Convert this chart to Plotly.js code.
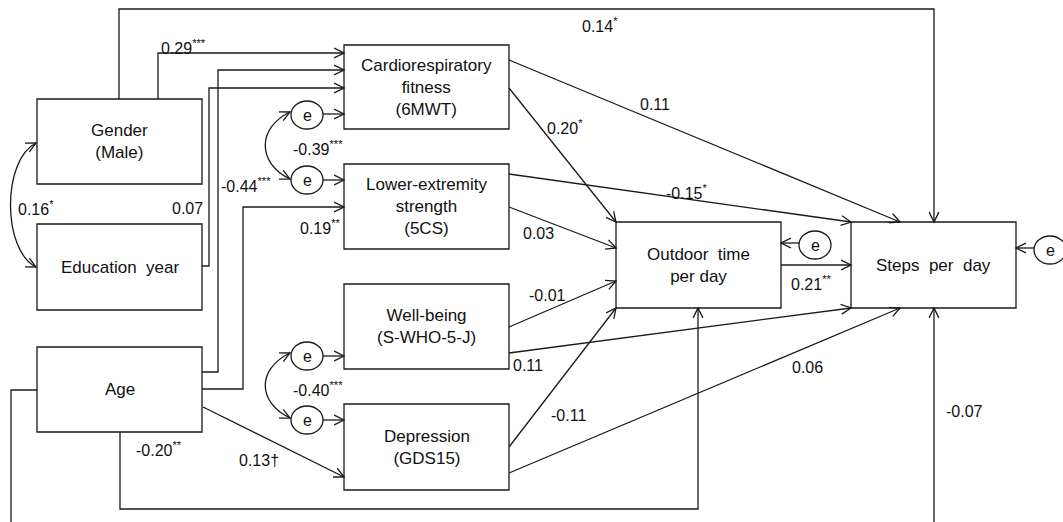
<!DOCTYPE html>
<html>
<head>
<meta charset="utf-8">
<script src="https://cdn.plot.ly/plotly-3.0.1.min.js"></script>
<style>html,body{margin:0;padding:0;background:#fff;}#chart{width:1063px;height:522px;}</style>
</head>
<body>
<div id="chart"></div>
<script>
// ---------- DATA ----------
const nodeLabels = [
  'Gender<br>(Male)',
  'Education  year',
  'Age',
  'Cardiorespiratory<br>fitness<br>(6MWT)',
  'Lower-extremity<br>strength<br>(5CS)',
  'Well-being<br>(S-WHO-5-J)',
  'Depression<br>(GDS15)',
  'Outdoor  time<br>per day',
  'Steps  per  day'
];
// path coefficients (from -> to)
const pathFrom = ['Gender','Gender','Education','Age','Age','Age','Age','Age',
                  'Cardio','Cardio','Lower','Lower','Well','Well','Depression','Depression','Outdoor'];
const pathTo   = ['Steps','Cardio','Cardio','Cardio','Lower','Depression','Outdoor','Steps',
                  'Steps','Outdoor','Steps','Outdoor','Outdoor','Steps','Outdoor','Steps','Steps'];
const pathCoef = ['0.14<sup>*</sup>','0.29<sup>***</sup>','0.07','-0.44<sup>***</sup>','0.19<sup>**</sup>',
                  '0.13†','-0.20<sup>**</sup>','-0.07',
                  '0.11','0.20<sup>*</sup>','-0.15<sup>*</sup>','0.03','-0.01','0.11','-0.11','0.06','0.21<sup>**</sup>'];
// covariances
const covPairs = ['Gender–Education','e Cardio–e Lower','e Well–e Depression'];
const covCoef  = ['0.16<sup>*</sup>','-0.39<sup>***</sup>','-0.40<sup>***</sup>'];
const errorLabel = 'e';

// ---------- GEOMETRY (layout only) ----------
const boxes = [
  [37,202,99,184],[37,202,224,310],[37,202,347,432],
  [344,509,45,129],[344,509,164,249],[344,509,284,369],[344,509,404,490],
  [616,781,222,308],[851,1016,222,308]
];
const pathPts = [
  [[119,99],[119,9],[934,9],[934,222]],
  [[158,99],[158,53],[344,53]],
  [[202,266],[209,266],[209,88],[344,88]],
  [[202,372],[218,372],[218,70],[344,70]],
  [[202,389],[243,389],[243,207],[344,207]],
  [[203,407],[344,477]],
  [[120,432],[120,509],[698,509],[698,308]],
  [[37,390],[11,390],[11,535],[934,535],[934,308]],
  [[509,60],[900,222]],
  [[509,88],[616,222]],
  [[509,174],[851,222]],
  [[509,207],[616,248]],
  [[509,327],[616,281]],
  [[509,353],[851,308]],
  [[509,447],[616,308]],
  [[509,473],[900,308]],
  [[781,265],[851,265]]
];
const pathLabelPos = [
  [600,25],[183,47],[187,208],[246,185],[320,227],[259,460],[159,449],[964,411],
  [655,104],[565,127],[686,192],[538,233],[547,295],[528,365],[568,415],[807,367],[811,283]
];
const errCircles = [[307,115],[307,180],[307,356],[307,420],[815,245],[1050,250]];
const errArrows = [
  [[323,114],[344,114]],[[323,180],[344,180]],[[323,356],[344,356]],[[323,420],[344,420]],
  [[799,243],[781,243]],[[1034,248],[1016,248]]
];
// cubic arcs: start, c1, c2, end
const covPaths = [
  [[36,143],[2,160],[2,250],[36,267]],
  [[290,112],[257,128],[257,163],[290,179]],
  [[290,353],[257,369],[257,402],[290,418]]
];
const covLabelPos = [[36,208],[318,148],[318,389]];

// ---------- BUILD ----------
const LC = '#1a1a1a';
const LW = 1.3;
const FONT = 'Liberation Sans, Arial, sans-serif';
const shapes = [];
const annotations = [];

function line(d) {
  shapes.push({type:'path', xref:'x', yref:'y', path:d, line:{color:LC, width:LW}});
}
// open V arrowhead at tip, direction from 'from' point
function head(tip, from) {
  const dx = tip[0]-from[0], dy = tip[1]-from[1];
  const L = Math.hypot(dx, dy); const ux = dx/L, uy = dy/L;
  const len = 11, half = 0.46;
  const c = Math.cos(half), s = Math.sin(half);
  const b1 = [tip[0] - len*(ux*c - uy*s), tip[1] - len*(uy*c + ux*s)];
  const b2 = [tip[0] - len*(ux*c + uy*s), tip[1] - len*(uy*c - ux*s)];
  line('M ' + b1[0] + ' ' + b1[1] + ' L ' + tip[0] + ' ' + tip[1] + ' L ' + b2[0] + ' ' + b2[1]);
}
function label(x, y, t, size) {
  annotations.push({x:x, y:y, xref:'x', yref:'y', text:t, showarrow:false,
                    font:{family:FONT, size:size, color:'#111'}});
}

boxes.forEach((b, i) => {
  shapes.push({type:'rect', xref:'x', yref:'y', x0:b[0], x1:b[1], y0:b[2], y1:b[3],
               line:{color:LC, width:LW}, fillcolor:'rgba(0,0,0,0)'});
  label((b[0]+b[1])/2, (b[2]+b[3])/2, nodeLabels[i], 17);
});

pathPts.forEach((pts, i) => {
  let d = 'M ' + pts[0][0] + ' ' + pts[0][1];
  for (let k = 1; k < pts.length; k++) d += ' L ' + pts[k][0] + ' ' + pts[k][1];
  line(d);
  head(pts[pts.length-1], pts[pts.length-2]);
  label(pathLabelPos[i][0], pathLabelPos[i][1], pathCoef[i], 16);
});

errCircles.forEach(c => {
  shapes.push({type:'circle', xref:'x', yref:'y', x0:c[0]-16, x1:c[0]+16, y0:c[1]-14, y1:c[1]+14,
               line:{color:LC, width:LW}, fillcolor:'#fff'});
  label(c[0], c[1], errorLabel, 16);
});
errArrows.forEach(a => {
  line('M ' + a[0][0] + ' ' + a[0][1] + ' L ' + a[1][0] + ' ' + a[1][1]);
  head(a[1], a[0]);
});

covPaths.forEach((p, i) => {
  line('M ' + p[0][0] + ' ' + p[0][1] + ' C ' + p[1][0] + ' ' + p[1][1] + ', ' +
       p[2][0] + ' ' + p[2][1] + ', ' + p[3][0] + ' ' + p[3][1]);
  head(p[0], p[1]);
  head(p[3], p[2]);
  label(covLabelPos[i][0], covLabelPos[i][1], covCoef[i], 16);
});

const layout = {
  width: 1063, height: 522,
  margin: {l:0, r:0, t:0, b:0},
  paper_bgcolor: '#fff', plot_bgcolor: '#fff',
  xaxis: {range:[0,1063], visible:false, fixedrange:true},
  yaxis: {range:[522,0], visible:false, fixedrange:true},
  shapes: shapes,
  annotations: annotations,
  showlegend: false
};
Plotly.newPlot('chart', [], layout, {staticPlot:true, displayModeBar:false});
</script>
</body>
</html>
